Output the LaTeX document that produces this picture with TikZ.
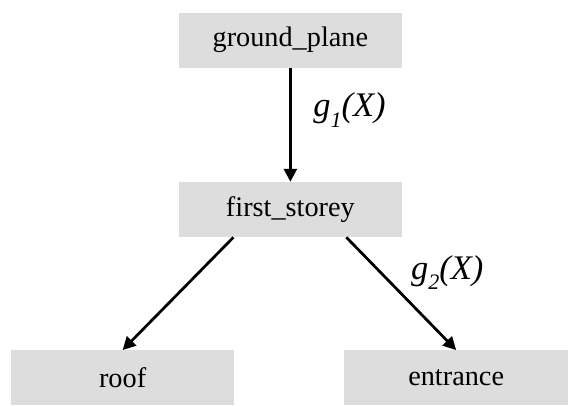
\documentclass[tikz,border=0pt]{standalone}
\usepackage{fontspec}
\setmainfont{Liberation Serif}
\usetikzlibrary{arrows.meta, positioning}
\definecolor{cBox}{RGB}{221,221,221}
\tikzset{
	part/.style  ={rectangle, fill=cBox, minimum width=5.7cm, minimum height=1.4cm, text centered, inner sep=0pt, font=\fontsize{20.5}{24}\selectfont},
	link/.style  ={-{Triangle[length=0.33cm, width=0.33cm]}, line width=2pt},
	glabel/.style={inner sep=0pt, font=\fontsize{25}{28}\selectfont\itshape},
}
% lowered index for the edge functions
\newcommand{\gsub}[1]{\raisebox{-0.3em}{\fontsize{16}{16}\selectfont #1}}
\begin{document}
\begin{tikzpicture}
	\node[part] (gp) {ground\_plane};
	\node[part, below=2.9cm of gp] (fs) {first\_storey};
	\node[part, below=2.875cm of fs, xshift=-4.275cm] (roof) {roof};
	\node[part, below=2.875cm of fs, xshift=4.225cm] (ent) {entrance};
	% page frame, the lower boxes run off its edges
	\useasboundingbox (gp.center) ++(-7.4cm,1.025cm) rectangle ++(14.2cm,-10.15cm);
	\draw[link] (gp) -- node[glabel, pos=0.37, right=0.55cm] {g\gsub{1}(X)} (fs);
	\draw[link] ([xshift=-1.45cm]fs.south) -- (roof.north);
	\draw[link] ([xshift=1.425cm]fs.south) -- node[glabel, pos=0.31, right=0.75cm] {g\gsub{2}(X)} (ent.north);
\end{tikzpicture}
\end{document}
